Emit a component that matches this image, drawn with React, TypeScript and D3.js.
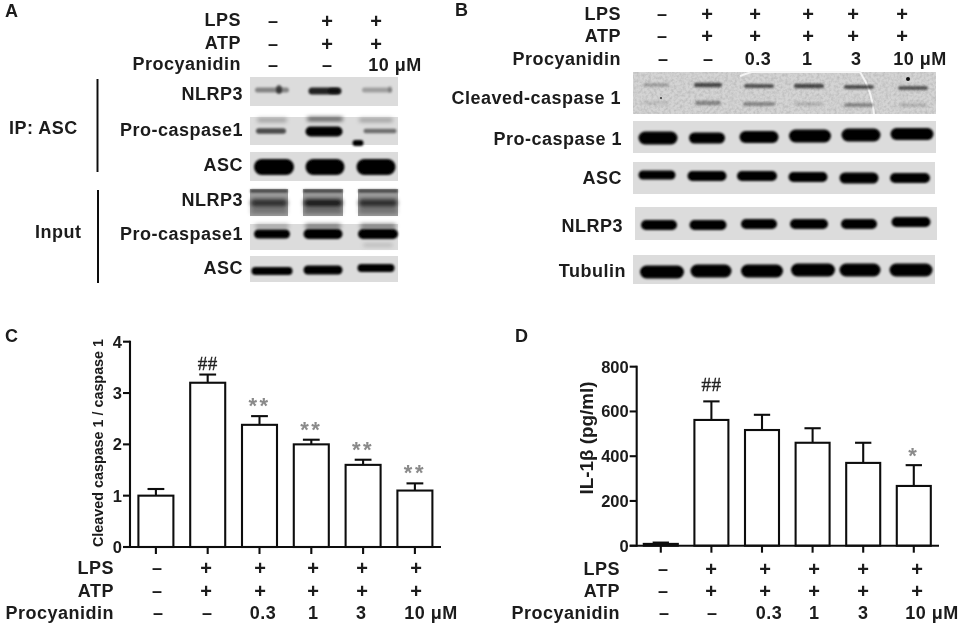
import React from "react";
import * as d3 from "d3";

// ---- chart data ----
const conditions = ["ctrl", "lps", "p03", "p1", "p3", "p10"];
const lpsRow = ["–", "+", "+", "+", "+", "+"];
const atpRow = ["–", "+", "+", "+", "+", "+"];
const procRow = ["–", "–", "0.3", "1", "3", "10 μM"];
const rowNames = ["LPS", "ATP", "Procyanidin"];

const cleavedMean = [1.0, 3.2, 2.38, 2.0, 1.6, 1.1];
const cleavedUpper = [1.13, 3.36, 2.55, 2.09, 1.7, 1.24];
const cleavedMarks = ["", "##", "**", "**", "**", "**"];
const cleavedTicks = [0, 1, 2, 3, 4];

const il1bMean = [8, 562, 517, 460, 370, 267];
const il1bUpper = [14, 645, 585, 525, 460, 360];
const il1bMarks = ["", "##", "", "", "", "*"];
const il1bTicks = [0, 200, 400, 600, 800];

// band ink (0..1) per lane, read from the blots
const aIpNlrp3 = [0.4, 0.85, 0.28];
const aIpPro = [0.65, 1, 0.5];
const aIpAsc = [1, 1, 1];
const aInNlrp3 = [0.7, 0.85, 0.72];
const aInPro = [1, 1, 1];
const aInAsc = [1, 1, 1];
const bCleavedTop = [0.25, 0.65, 0.6, 0.65, 0.62, 0.58];
const bCleavedLow = [0.1, 0.35, 0.35, 0.16, 0.35, 0.16];
const bPro = [1, 1, 1, 1, 1, 1];
const bAsc = [1, 1, 1, 1, 1, 1];
const bNlrp3 = [1, 1, 1, 1, 1, 1];
const bTub = [1, 1, 1, 1, 1, 1];

// ---- gel layout ----
type Band = { cx: number; w: number; h: number; y: number };
const bands = (cx: number[], w: number[], h: number[], y: number[]): Band[] =>
  cx.map((c, i) => ({ cx: c, w: w[i], h: h[i], y: y[i] }));

const FONT = "'Liberation Sans', Arial, sans-serif";
const TXT = "#1a1a1a";

function Gel({ x, y, w, h, bg = "#dcdcdc" }: any) {
  return <rect x={x} y={y} width={w} height={h} fill={bg} filter="url(#soft)" />;
}
function Ink({ list, ink, blur = "band" }: { list: Band[]; ink: number[]; blur?: string }) {
  return (
    <g filter={`url(#${blur})`}>
      {list.map((b, i) => (
        <rect key={i} x={b.cx - b.w / 2} y={b.y - b.h / 2} width={b.w} height={b.h} rx={b.h / 2}
          fill="#000" opacity={ink[i]} />
      ))}
    </g>
  );
}
function Label({ x, y, t, anchor = "end", size = 18, ls = 0.5 }: any) {
  return (
    <text x={x} y={y} dy="0.36em" textAnchor={anchor} fontSize={size} fontWeight={700}
      fontFamily={FONT} fill={TXT} letterSpacing={ls}>{t}</text>
  );
}

function Rows({ right, ys, xs }: { right: number; ys: number[]; xs: number[][] }) {
  const rows = [lpsRow, atpRow, procRow];
  return (
    <g>
      {rowNames.map((n, r) => (
        <g key={n}>
          <Label x={right} y={ys[r]} t={n} />
          {rows[r].map((s, i) => (
            <Label key={i} x={xs[r][i]} y={ys[r]} t={s} anchor="middle" size={s === "+" ? 20 : 18} ls={s.length > 2 ? 0.5 : 0} />
          ))}
        </g>
      ))}
    </g>
  );
}

function Bars({ mean, upper, marks, ticks, x0, x1, yTop, yBase, domainMax, bw, band0, step, tickSize, hashGap, starGap, title, titleX, titleY, titleLen, titleSize }: any) {
  const y = d3.scaleLinear().domain([0, domainMax]).range([yBase, yTop]);
  const x = d3.scaleBand<string>().domain(conditions)
    .range([band0, band0 + step * conditions.length]).paddingInner(1 - bw / step).paddingOuter((1 - bw / step) / 2);
  const sw = 2.1;
  return (
    <g stroke="#111" fill="none" strokeWidth={sw}>
      {conditions.map((c, i) => {
        const cx = x(c)! + x.bandwidth() / 2;
        const top = y(upper[i]);
        return (
          <g key={c}>
            <line x1={cx} x2={cx} y1={y(mean[i])} y2={top} />
            <line x1={cx - x.bandwidth() * 0.24} x2={cx + x.bandwidth() * 0.24} y1={top} y2={top} />
            <rect x={x(c)} y={y(mean[i])} width={x.bandwidth()} height={yBase - y(mean[i])} fill="#fff" />
            <line x1={cx} x2={cx} y1={yBase} y2={yBase + tickSize} />
            {marks[i] === "##" && (
              <text x={cx} y={top - hashGap} textAnchor="middle" fontFamily="'Liberation Serif', serif" fontSize={19}
                letterSpacing={0.5} stroke="#222" strokeWidth={0.35} fill="#222">{marks[i]}</text>
            )}
            {marks[i].startsWith("*") && (
              <text x={cx} y={top - starGap} textAnchor="middle" fontFamily={FONT} fontSize={22}
                letterSpacing={2.5} stroke="none" fill="#8a8a8a" fontWeight={700}>{marks[i]}</text>
            )}
          </g>
        );
      })}
      <line x1={x0} x2={x0} y1={yTop - 1} y2={yBase + 1} />
      <line x1={x0 - tickSize} x2={x1} y1={yBase} y2={yBase} />
      {ticks.map((t: number) => (
        <g key={t}>
          <line x1={x0 - tickSize} x2={x0} y1={y(t)} y2={y(t)} />
          <text x={x0 - tickSize - 1} y={y(t)} dy="0.36em" textAnchor="end" fontFamily={FONT} fontWeight={700}
            fontSize={16.5} stroke="none" fill={TXT} letterSpacing={0}>{t}</text>
        </g>
      ))}
      <text transform={`translate(${titleX},${titleY}) rotate(-90)`} textAnchor="middle" dy="0.36em"
        fontFamily={FONT} fontWeight={700} fontSize={titleSize} stroke="none" fill={TXT}
        textLength={titleLen} lengthAdjust="spacingAndGlyphs">{title}</text>
    </g>
  );
}

export default function App() {
  return (
    <svg width={965} height={630} viewBox="0 0 965 630"
      style={{ position: "absolute", left: 0, top: 0, background: "#fff" }}>
      <defs>
        <filter id="soft" x="-5%" y="-5%" width="110%" height="110%"><feGaussianBlur stdDeviation="0.5" /></filter>
        <filter id="band" x="-20%" y="-80%" width="140%" height="260%"><feGaussianBlur stdDeviation="1.1" /></filter>
        <filter id="wide" x="-20%" y="-150%" width="140%" height="400%"><feGaussianBlur stdDeviation="2" /></filter>
        <filter id="txt" x="-2%" y="-2%" width="104%" height="104%"><feGaussianBlur stdDeviation="0.35" /></filter>
        <filter id="grain" x="0" y="0" width="100%" height="100%">
          <feTurbulence type="fractalNoise" baseFrequency="0.35" numOctaves="2" seed="4" />
          <feColorMatrix values="0 0 0 0 0.2  0 0 0 0 0.2  0 0 0 0 0.2  1.6 0 0 0 -0.6" />
        </filter>
      </defs>
      <g filter="url(#txt)">
        {/* Panel letters */}
        <Label x={5} y={11} t="A" anchor="start" size={18} />
        <Label x={455} y={10} t="B" anchor="start" size={18} />
        <Label x={5} y={336} t="C" anchor="start" size={18} />
        <Label x={515} y={336} t="D" anchor="start" size={18} />

        {/* ---------- Panel A ---------- */}
        {rowNames.map((n, r) => <Label key={n} x={241} y={[20, 43, 64][r]} t={n} />)}
        {[["–", "+", "+"], ["–", "+", "+"], ["–", "–", "10 μM"]].map((row, r) =>
          row.map((s, i) => (
            <Label key={`${r}${i}`} x={[[273, 327, 376], [273, 327, 376], [273, 327, 395]][r][i]}
              y={[21, 44, 65][r]} t={s} anchor="middle" size={s === "+" ? 20 : 18} ls={s.length > 2 ? 0.5 : 0} />
          )))}
        <line x1={97.5} x2={97.5} y1={79} y2={172} stroke="#111" strokeWidth={2} />
        <line x1={98} x2={98} y1={190} y2={283} stroke="#111" strokeWidth={2} />
        <Label x={9} y={128} t="IP: ASC" anchor="start" />
        <Label x={35} y={232} t="Input" anchor="start" />
        {[["NLRP3", 94], ["Pro-caspase1", 130], ["ASC", 165], ["NLRP3", 200], ["Pro-caspase1", 234], ["ASC", 268]].map(([t, y], i) => (
          <Label key={i} x={243} y={y} t={t} />
        ))}

        <Gel x={250} y={77} w={148} h={29} />
        <Ink list={bands([272, 325, 377], [34, 33, 30], [5, 7, 5], [90, 91, 90])} ink={aIpNlrp3} />
        <Ink list={bands([279, 334, 390], [6, 11, 4], [9, 6, 7], [89.5, 91, 89.5])} ink={[0.6, 0.6, 0.22]} />

        <Gel x={250} y={117} w={148} h={28} />
        <Ink list={bands([272, 325, 376], [30, 36, 34], [3.5, 3.5, 3], [120, 119, 120])} ink={[0.35, 0.75, 0.4]} blur="wide" />
        <Ink list={bands([271, 324, 380], [30, 37, 33], [5.5, 10, 4.5], [131, 131.5, 131])} ink={aIpPro} />
        <Ink list={bands([358], [11], [6], [143])} ink={[1]} />

        <Gel x={250} y={152} w={148} h={29} />
        <Ink list={bands([274, 325, 376], [40, 39, 39], [16, 16, 16], [167, 167, 167])} ink={aIpAsc} />

        {[[250, 38], [303, 40], [358, 40]].map(([x, w], i) => (
          <g key={i}>
            <Gel x={x} y={189} w={w} h={27} bg="#9c9c9c" />
            <Ink list={bands([x + w / 2], [w], [3], [191])} ink={[0.6]} />
            <Ink list={bands([x + w / 2], [w - 1], [8], [203])} ink={[aInNlrp3[i]]} blur="wide" />
            <Ink list={bands([x + w / 2], [w - 1], [4], [211])} ink={[aInNlrp3[i] * 0.5]} blur="wide" />
          </g>
        ))}

        <Gel x={250} y={224} w={148} h={26} />
        <Ink list={bands([272, 323, 378], [34, 36, 36], [3, 4, 4], [226, 226, 226])} ink={[0.4, 0.55, 0.55]} blur="wide" />
        <Ink list={bands([272, 323, 378], [36, 39, 40], [9, 10, 10], [234, 234, 234])} ink={aInPro} />
        <Ink list={bands([378], [30], [3], [245])} ink={[0.2]} blur="wide" />

        <Gel x={250} y={256} w={148} h={26} />
        <Ink list={bands([272, 323, 376], [41, 39, 37], [8, 9, 8], [271, 270, 268])} ink={aInAsc} />

        {/* ---------- Panel B ---------- */}
        <Rows right={621} ys={[14, 36, 59]}
          xs={[[662, 707, 755, 808, 853, 902], [662, 707, 755, 808, 853, 902], [663, 708, 758, 807, 856, 920]]} />
        {[["Cleaved-caspase 1", 98], ["Pro-caspase 1", 139], ["ASC", 178], ["NLRP3", 226], ["Tubulin", 271]].map(([t, y], i) => (
          <Label key={i} x={[621, 622, 622, 623, 626][i]} y={y} t={t} />
        ))}

        <Gel x={633} y={72} w={303} h={42} bg="#d4d4d4" />
        <rect x={633} y={72} width={303} height={42} filter="url(#grain)" opacity={0.35} />
        <path d="M740 76 Q 748 73 752 72 L 860 72 Q 872 90 874 114" fill="none" stroke="#f4f4f4" strokeWidth={2} filter="url(#soft)" />
        <Ink list={bands([656, 708, 759, 809, 859, 913], [26, 28, 30, 30, 30, 30], [3.5, 4.5, 4, 4.5, 4, 4], [85, 85, 86, 86, 87, 88])} ink={bCleavedTop} />
        <Ink list={bands([656, 708, 759, 809, 859, 913], [26, 26, 32, 28, 30, 28], [3.5, 4.5, 4, 3.5, 4, 3.5], [103, 103, 104, 104, 105, 105])} ink={bCleavedLow} />
        <circle cx={908} cy={79} r={2} fill="#111" />
        <circle cx={661} cy={98} r={1} fill="#333" />

        <Gel x={633} y={121} w={303} h={32} />
        <Ink list={bands([658, 707, 759, 810, 861, 912], [39, 36, 39, 42, 39, 43], [13, 11, 12, 13, 13, 12], [138, 138, 137, 136, 135, 134])} ink={bPro} />

        <Gel x={633} y={162} w={302} h={32} />
        <Ink list={bands([657, 707, 757, 808, 859, 910], [37, 39, 40, 39, 39, 40], [9, 10, 10, 10, 11, 10], [175, 176, 176, 177, 178, 178])} ink={bAsc} />

        <Gel x={635} y={207} w={302} h={33} />
        <Ink list={bands([659, 708, 759, 809, 859, 911], [36, 37, 36, 38, 36, 39], [10, 10, 10, 10, 10, 10], [225, 225, 224, 224, 224, 222])} ink={bNlrp3} />

        <Gel x={633} y={255} w={302} h={29} />
        <Ink list={bands([662, 711, 762, 813, 860, 911], [44, 41, 42, 44, 41, 43], [13, 13, 13, 13, 13, 13], [272, 271, 271, 270, 270, 270])} ink={bTub} />

        {/* ---------- Panel C ---------- */}
        <Bars mean={cleavedMean} upper={cleavedUpper} marks={cleavedMarks} ticks={cleavedTicks}
          x0={130} x1={441} yTop={341.7} yBase={547} domainMax={4} bw={35} band0={130} step={51.8} tickSize={7}
          hashGap={5} starGap={3} title="Cleaved caspase 1 / caspase 1" titleX={98} titleY={443} titleLen={208} titleSize={15} />
        <Rows right={114} ys={[568, 591, 613]}
          xs={[[157, 206, 260, 313, 362, 416], [157, 206, 260, 313, 362, 416], [158, 207, 263, 313, 361, 431]]} />

        {/* ---------- Panel D ---------- */}
        <Bars mean={il1bMean} upper={il1bUpper} marks={il1bMarks} ticks={il1bTicks}
          x0={636.7} x1={939} yTop={366.7} yBase={545.7} domainMax={800} bw={34} band0={635.5} step={50.6} tickSize={7}
          hashGap={10} starGap={2} title="IL-1β (pg/ml)" titleX={587} titleY={438} titleLen={113} titleSize={18} />
        <Rows right={620} ys={[568.5, 591, 613]}
          xs={[[663, 711, 765, 814, 863, 917], [663, 711, 765, 814, 863, 917], [664, 712, 769, 814, 863, 932]]} />
      </g>
    </svg>
  );
}
